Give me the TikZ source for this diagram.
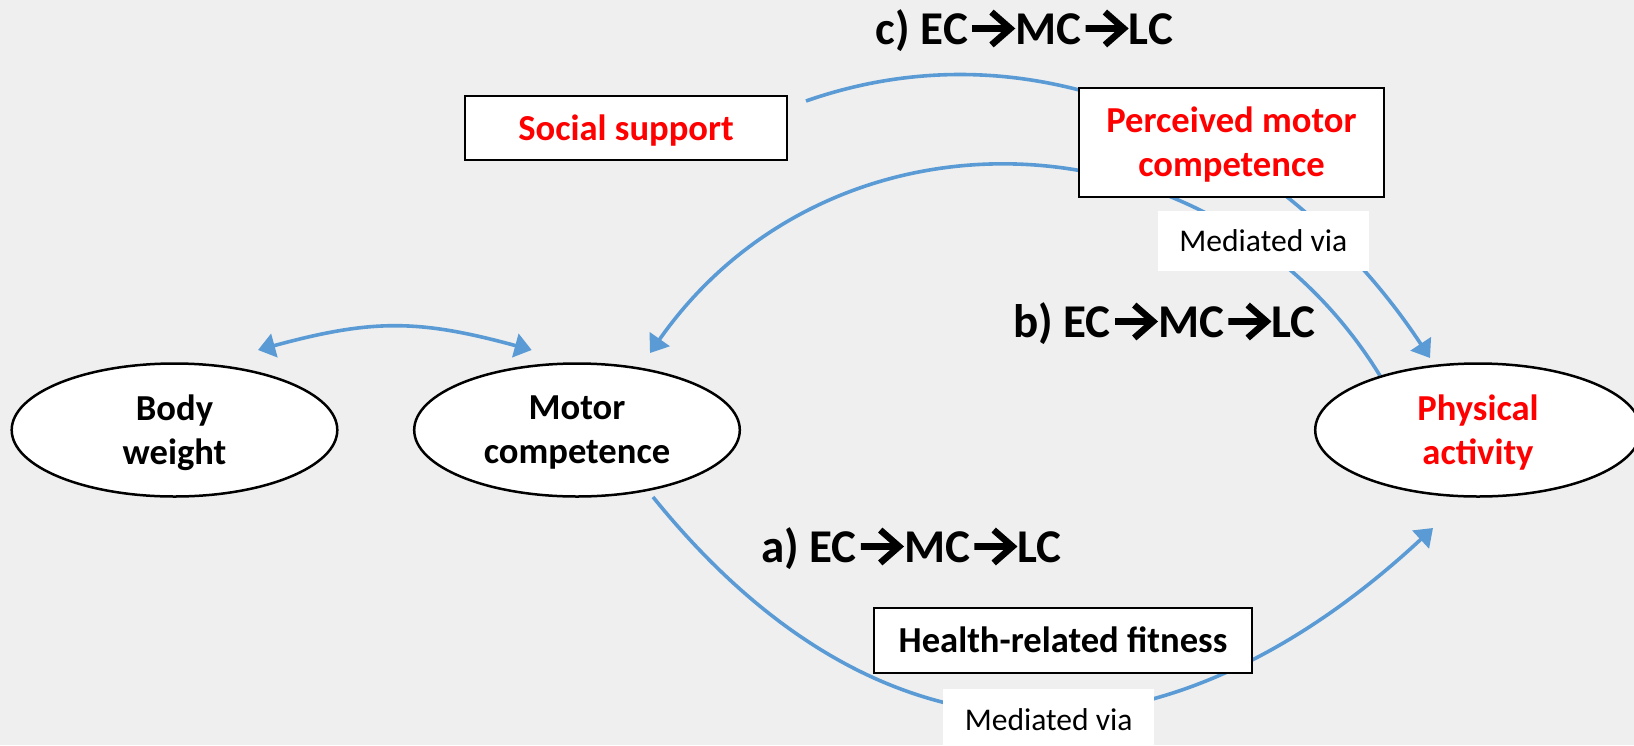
\documentclass[tikz,border=0pt]{standalone}
\usepackage{fontspec}
\setmainfont{Carlito}
\usetikzlibrary{arrows.meta,shapes.geometric}
\definecolor{pathblue}{HTML}{5B9BD5}
\definecolor{slidegray}{HTML}{EFEFEF}
\definecolor{keyred}{HTML}{FF0000}
\pgfdeclarelayer{links}
\pgfsetlayers{links,main}
\newcommand{\stagearrow}{\kern0.02em\tikz[baseline=0pt]\draw[line width=0.14em] (0.03em,0.33em)--(0.84em,0.33em) (0.44em,0.68em)--(0.84em,0.33em)--(0.44em,-0.02em);\kern0.04em}

\begin{document}
\begin{tikzpicture}[x=0.5pt,y=-0.5pt,
  factor/.style={ellipse,draw,line width=1.25pt,fill=white,minimum width=162.8pt,minimum height=66.5pt,inner sep=0pt,align=center,text depth=0pt,font=\fontsize{18.3}{22}\selectfont\bfseries},
  mediator/.style={rectangle,draw,line width=1pt,fill=white,inner sep=0pt,align=center,text depth=0pt,font=\fontsize{18.3}{22}\selectfont\bfseries},
  medlabel/.style={fill=white,inner sep=0pt,minimum width=105.5pt,minimum height=30pt,text depth=0pt,font=\fontsize{15.8}{19}\selectfont},
  pathlabel/.style={anchor=base,inner sep=0pt,font=\fontsize{23.5}{28}\selectfont\bfseries},
  link/.style={pathblue,line width=1.8pt},
  linkarrow/.style={-{Triangle[length=8.5pt,width=12pt]}}]
  \useasboundingbox (0,0) rectangle (1634,745);
  % outcome ellipses
  \node[factor] (body) at (174.5,430) {Body\\weight};
  \node[factor] (motor) at (577,430) {Motor\\competence};
  \node[factor,text=keyred] (phys) at (1478,430) {Physical\\activity};
  % mediators
  \node[mediator,minimum width=161pt,minimum height=32pt,text=keyred] (social) at (626,128) {Social support};
  \node[mediator,minimum width=152.5pt,minimum height=54.5pt,text=keyred] (pmc) at (1231.5,142) {Perceived motor\\competence};
  \node[mediator,minimum width=189pt,minimum height=32.5pt] (fitness) at (1063,640) {Health-related fitness};
  \node[medlabel] (medtop) at (1263.3,241) {Mediated via};
  \node[medlabel,minimum height=31pt] (medbot) at (1048.7,720) {Mediated via};
  % childhood stages
  \node[pathlabel] (labc) at (1024.5,44) {c) EC\stagearrow MC\stagearrow LC};
  \node[pathlabel] (labb) at (1164.5,337) {b) EC\stagearrow MC\stagearrow LC};
  \node[pathlabel] (laba) at (911.5,562) {a) EC\stagearrow MC\stagearrow LC};
  % free ends of the paths
  \coordinate (bw-end) at ([shift={(83.5,-80)}]body.center);
  \coordinate (mc-end) at ([shift={(-45.3,-80)}]motor.center);
  \coordinate (a-start) at ([shift={(76,67)}]motor.center);
  \coordinate (a-end) at ([shift={(-45,98)}]phys.center);
  \coordinate (c-start) at ([shift={(18,-27)}]social.east);
  \coordinate (c-end) at ([shift={(-48,-72)}]phys.center);
  \coordinate (d-end) at ([shift={(73,-77)}]motor.center);
  \begin{pgfonlayer}{links}
    \fill[slidegray] (0,0) rectangle (1634,745);
    \draw[link,{Triangle[length=8.5pt,width=12pt]}-{Triangle[length=8.5pt,width=12pt]}] (bw-end) .. controls +(114,-31) and +(-113.7,-31) .. (mc-end);
    \draw[link,linkarrow] (a-start) .. controls +(249,308) and +(-244,227) .. (a-end);
    \draw[link,linkarrow] (c-start) .. controls +(248.5,-86.9) and +(-135.2,-205.2) .. (c-end);
    \draw[link,linkarrow] (phys.151) .. controls +(-166,-270) and +(181.6,-259.2) .. (d-end);
  \end{pgfonlayer}
\end{tikzpicture}
\end{document}
